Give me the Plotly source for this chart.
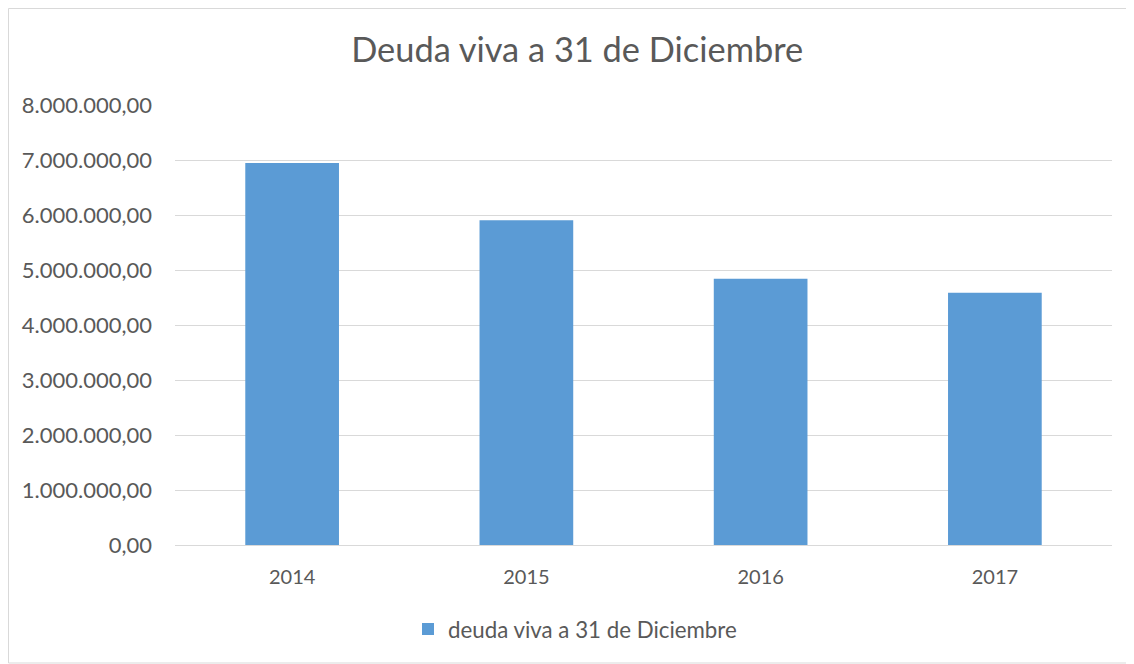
import plotly.graph_objects as go

years = ["2014", "2015", "2016", "2017"]
deuda = [6945000, 5905000, 4840000, 4585000]
series_name = "deuda viva a 31 de Diciembre"
title_text = "Deuda viva a 31 de Diciembre"

# page body has an 8px margin; figure coords = reference coords - 8
OFF = 8
W, H = 1134 - OFF, 664 - OFF
L, T = 175 - OFF, 105 - OFF
R = W - (1112 - OFF)
B = H - (545 - OFF)
pw = W - L - R
ph = H - T - B

fig = go.Figure()
fig.add_trace(go.Bar(
    x=years, y=deuda, name=series_name,
    marker=dict(color="#5b9bd5", line=dict(width=0)),
    width=0.4,
))

font_fam = "Lato, 'Open Sans', sans-serif"
fig.update_layout(
    width=W, height=H,
    margin=dict(l=L, r=R, t=T, b=B),
    paper_bgcolor="white", plot_bgcolor="white",
    separators=",.",
    font=dict(family=font_fam, color="#595959", size=20),
    title=dict(text=title_text, x=0.5055, xanchor="center", y=1 - (50 - OFF) / H, yanchor="middle",
               font=dict(size=34.4, color="#595959", family=font_fam)),
    showlegend=True,
    legend=dict(orientation="h", x=(400 - L) / pw, xanchor="left",
                y=-((629 - OFF) - (T + ph)) / ph, yanchor="middle",
                font=dict(size=22.3, color="#595959")),
    bargap=0.6,
)
fig.update_yaxes(range=[0, 8000000], dtick=1000000, tickformat=",.2f",
                 showgrid=True, gridcolor="#d9d9d9", gridwidth=1,
                 zeroline=False, showline=False, ticks="", ticklabelstandoff=22,
                 tickfont=dict(size=22, color="#595959"))
fig.update_xaxes(showgrid=False, showline=True, linecolor="#d9d9d9", linewidth=1,
                 ticks="", tickfont=dict(size=20, color="#595959"), ticklabelstandoff=14)

# outer chart frame
fig.add_shape(type="rect", xref="paper", yref="paper",
              x0=(0.5 - L) / pw, x1=(1133 - OFF - L) / pw,
              y0=-((663 - OFF) - (T + ph)) / ph, y1=1 + (T - 0.5) / ph,
              line=dict(color="#d9d9d9", width=1), fillcolor="rgba(0,0,0,0)", layer="below")

fig.write_html("out.html")
